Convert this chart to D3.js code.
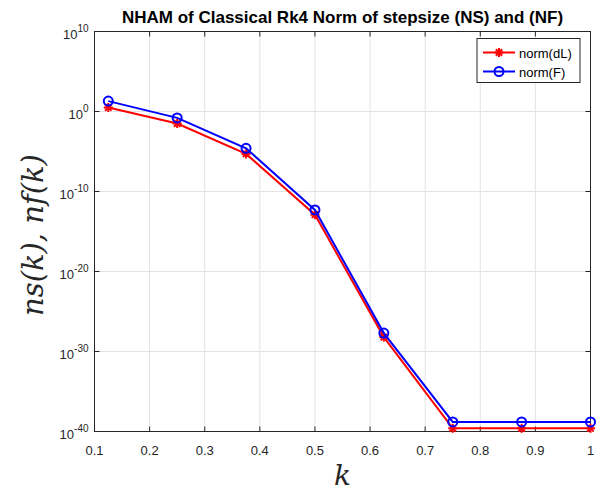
<!DOCTYPE html>
<html>
<head>
<meta charset="utf-8">
<script src="https://cdn.jsdelivr.net/npm/d3@7"></script>
<style>
  body { margin: 0; background: #fff; }
  svg { display: block; font-family: "Liberation Sans", Arial, sans-serif; }
</style>
</head>
<body>
<div id="chart"></div>
<script>
// --- Data ---
const kValues = [0.125, 0.25, 0.375, 0.5, 0.625, 0.75, 0.875, 1];
// log10 of the norms
const nsLog = [0.5, -1.5, -5.3, -12.9, -28.2, -39.6, -39.6, -39.6];   // norm(dL)
const nfLog = [1.3, -0.8, -4.6, -12.3, -27.7, -38.8, -38.8, -38.8];   // norm(F)
const xTicks = [0.1, 0.2, 0.3, 0.4, 0.5, 0.6, 0.7, 0.8, 0.9, 1];
const yTickExp = [10, 0, -10, -20, -30, -40];

const series = [
  { name: "norm(dL)", color: "#ff0000", marker: "star", vals: nsLog },
  { name: "norm(F)", color: "#0000ff", marker: "circle", vals: nfLog }
];

// --- Setup ---
const width = 601, height = 494;
const margin = { left: 94.5, right: 10.5, top: 31.5, bottom: 62.5 };
const iw = width - margin.left - margin.right;
const ih = height - margin.top - margin.bottom;

const svg = d3.select("#chart").append("svg")
  .attr("width", width).attr("height", height);

const x = d3.scaleLinear().domain([0.1, 1]).range([margin.left, margin.left + iw]);
const y = d3.scaleLinear().domain([-40, 10]).range([margin.top + ih, margin.top]);

// --- Grid ---
const grid = svg.append("g").attr("stroke", "#e3e3e3").attr("stroke-width", 1);
xTicks.slice(1, -1).forEach(t => {
  grid.append("line").attr("x1", x(t)).attr("x2", x(t))
    .attr("y1", margin.top).attr("y2", margin.top + ih);
});
yTickExp.slice(1, -1).forEach(t => {
  grid.append("line").attr("x1", margin.left).attr("x2", margin.left + iw)
    .attr("y1", y(t)).attr("y2", y(t));
});

// --- Axes (MATLAB box style, inward ticks) ---
const tl = 5;
const axis = svg.append("g").attr("stroke", "#262626").attr("stroke-width", 1);
axis.append("rect").attr("x", margin.left).attr("y", margin.top)
  .attr("width", iw).attr("height", ih).attr("fill", "none");
xTicks.forEach(t => {
  axis.append("line").attr("x1", x(t)).attr("x2", x(t))
    .attr("y1", margin.top + ih).attr("y2", margin.top + ih - tl);
  axis.append("line").attr("x1", x(t)).attr("x2", x(t))
    .attr("y1", margin.top).attr("y2", margin.top + tl);
});
yTickExp.forEach(t => {
  axis.append("line").attr("x1", margin.left).attr("x2", margin.left + tl)
    .attr("y1", y(t)).attr("y2", y(t));
  axis.append("line").attr("x1", margin.left + iw).attr("x2", margin.left + iw - tl)
    .attr("y1", y(t)).attr("y2", y(t));
});

// tick labels
svg.append("g").selectAll("text").data(xTicks).join("text")
  .attr("x", d => x(d)).attr("y", margin.top + ih + 23)
  .attr("text-anchor", "middle").attr("font-size", 13).attr("fill", "#262626")
  .text(d => d === 1 ? "1" : d3.format(".1f")(d));

const yl = svg.append("g").selectAll("text").data(yTickExp).join("text")
  .attr("x", margin.left - 6).attr("y", d => y(d) + 7)
  .attr("text-anchor", "end").attr("font-size", 13).attr("fill", "#262626");
yl.append("tspan").text("10");
yl.append("tspan").attr("dy", -7).attr("font-size", 10).text(d => d);

// --- Lines & markers ---
const line = d3.line().x((d, i) => x(kValues[i])).y(d => y(d));
series.forEach(s => {
  svg.append("path").datum(s.vals).attr("d", line)
    .attr("fill", "none").attr("stroke", s.color).attr("stroke-width", 2);
  const g = svg.append("g");
  s.vals.forEach((v, i) => drawMarker(g, s, x(kValues[i]), y(v)));
});

function drawMarker(g, s, cx, cy) {
  if (s.marker === "circle") {
    g.append("circle").attr("cx", cx).attr("cy", cy).attr("r", 4.5)
      .attr("fill", "none").attr("stroke", s.color).attr("stroke-width", 2);
  } else {
    const r = 4.5;
    [0, 45, 90, 135].forEach(a => {
      const rad = a * Math.PI / 180;
      g.append("line")
        .attr("x1", cx - r * Math.cos(rad)).attr("y1", cy - r * Math.sin(rad))
        .attr("x2", cx + r * Math.cos(rad)).attr("y2", cy + r * Math.sin(rad))
        .attr("stroke", s.color).attr("stroke-width", 2);
    });
  }
}

// --- Title ---
svg.append("text").attr("x", margin.left + iw / 2).attr("y", 22.5)
  .attr("text-anchor", "middle").attr("font-size", 17).attr("font-weight", "bold")
  .attr("fill", "#000").text("NHAM of Classical Rk4 Norm of stepsize (NS) and (NF)");

// --- Axis labels ---
svg.append("text").attr("x", margin.left + iw / 2).attr("y", 485)
  .attr("text-anchor", "middle").attr("font-family", "'DejaVu Serif', serif")
  .attr("font-style", "italic").attr("font-size", 28).attr("fill", "#262626").text("k");

svg.append("text").attr("transform", "translate(43,235) rotate(-90)")
  .attr("text-anchor", "middle").attr("font-family", "'DejaVu Serif', serif")
  .attr("font-style", "italic").attr("font-size", 29).attr("fill", "#262626")
  .text("ns(k), nf(k)");

// --- Legend ---
const lg = svg.append("g").attr("transform", "translate(477,38.5)");
lg.append("rect").attr("width", 103).attr("height", 44)
  .attr("fill", "#fff").attr("stroke", "#262626").attr("stroke-width", 1);
series.forEach((s, i) => {
  const ly = 14 + i * 19;
  lg.append("line").attr("x1", 6).attr("x2", 38).attr("y1", ly).attr("y2", ly)
    .attr("stroke", s.color).attr("stroke-width", 2);
  drawMarker(lg, s, 22, ly);
  lg.append("text").attr("x", 42).attr("y", ly + 5).attr("font-size", 13)
    .attr("fill", "#000").text(s.name);
});
</script>
</body>
</html>
